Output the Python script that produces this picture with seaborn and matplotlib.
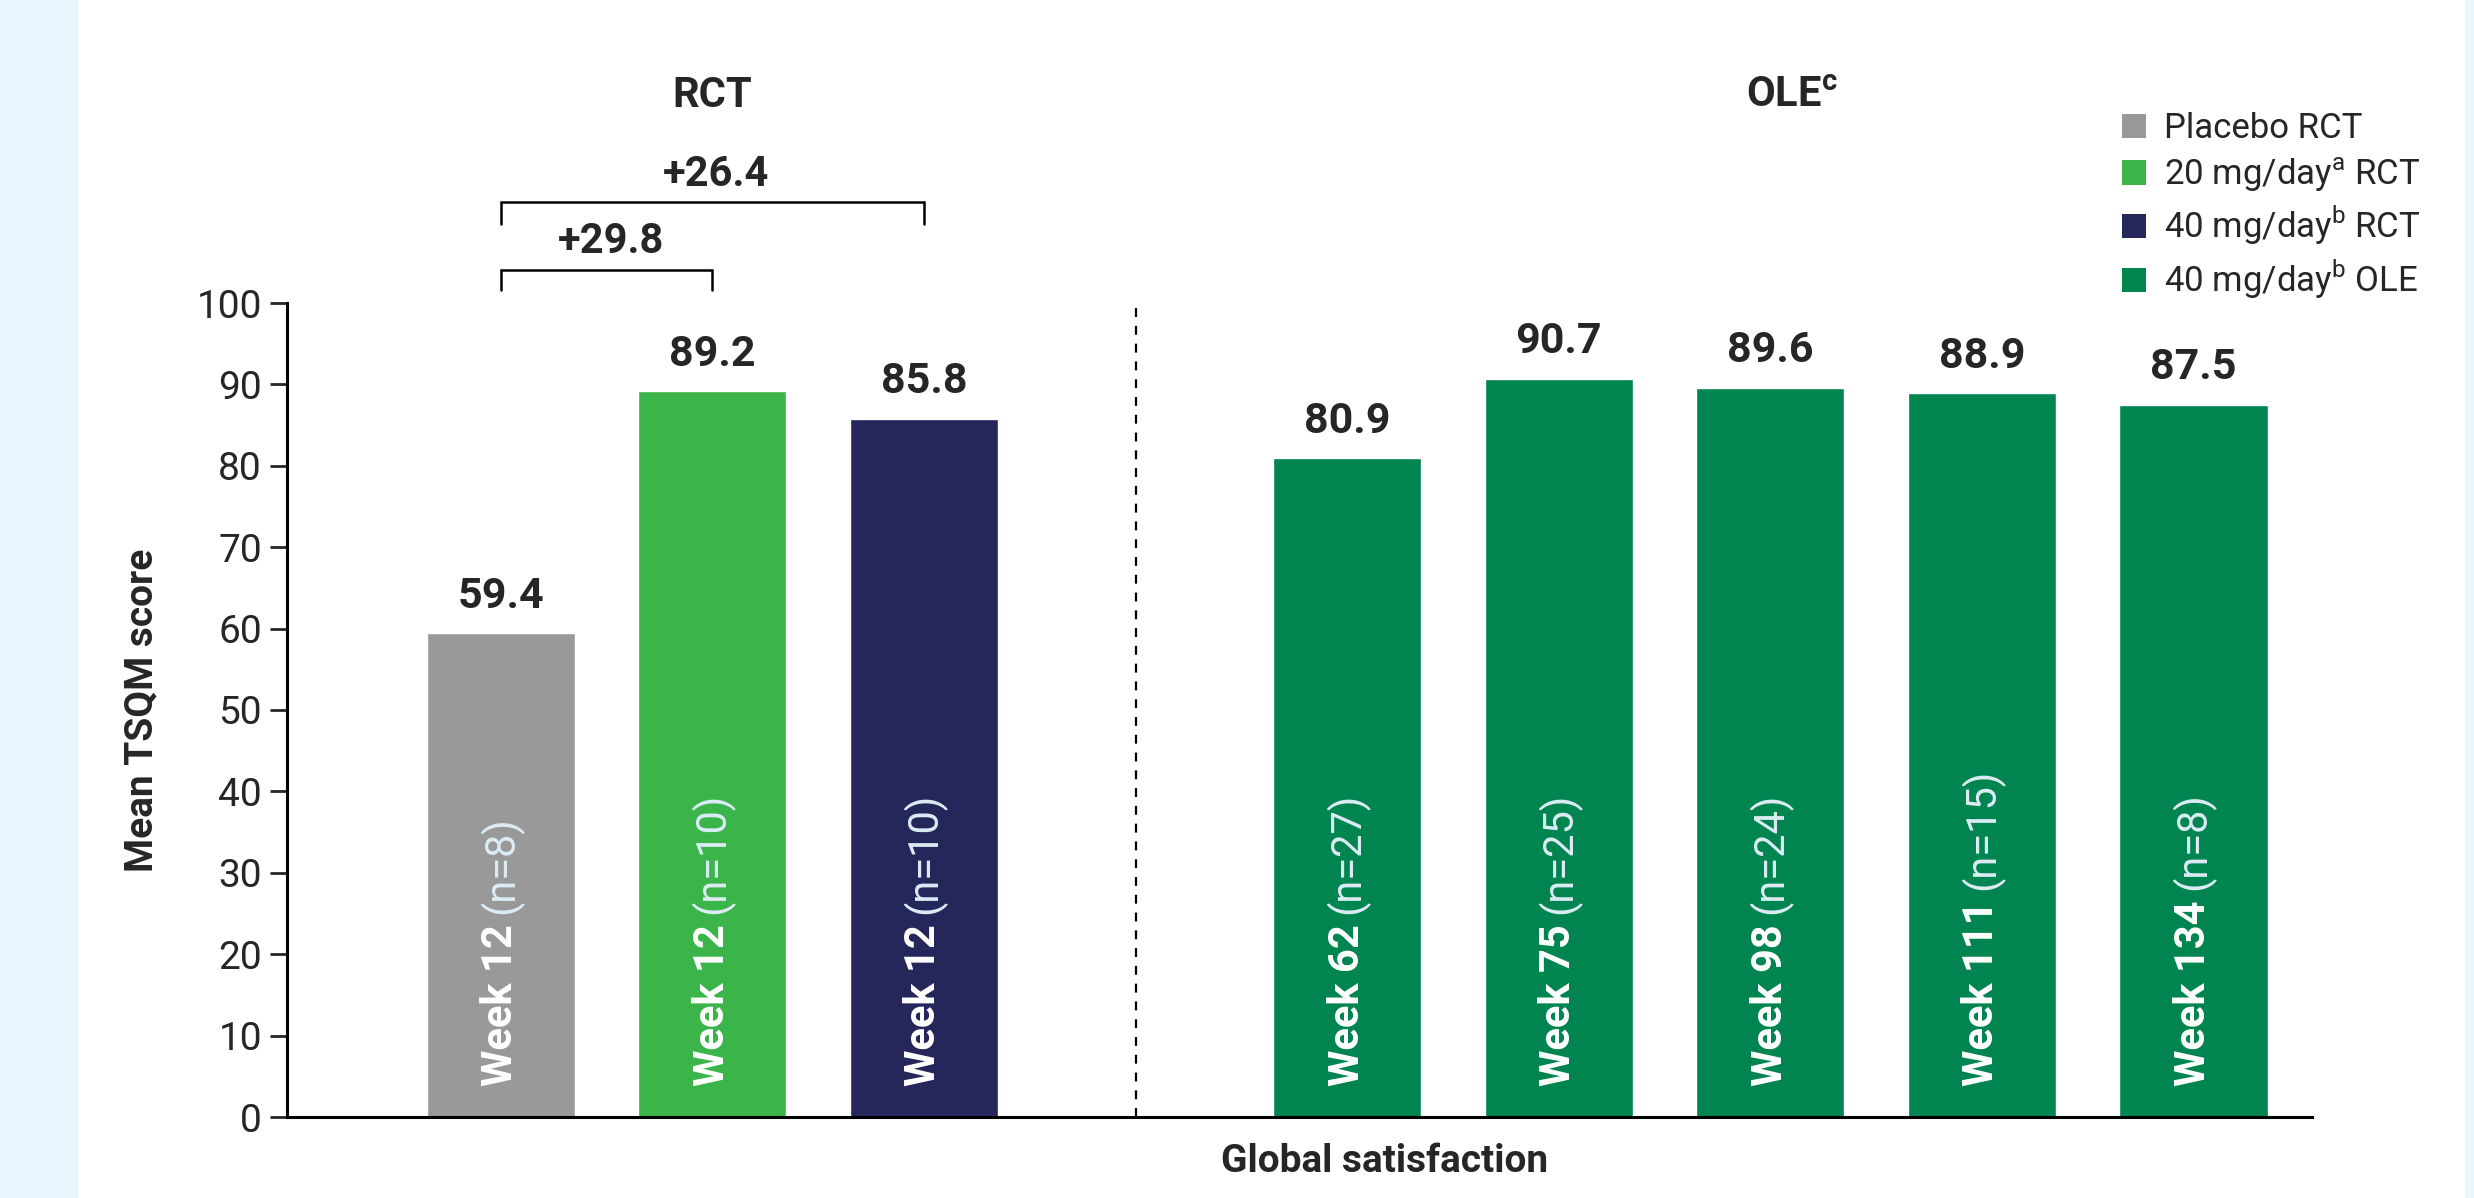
import matplotlib
matplotlib.use("Agg")
import matplotlib.pyplot as plt
from matplotlib.patches import Patch, Rectangle
import numpy as np
import pandas as pd
import seaborn as sns

# data
arms = ["Placebo RCT", "20 mg/day RCT", "40 mg/day RCT",
        "40 mg/day OLE", "40 mg/day OLE", "40 mg/day OLE", "40 mg/day OLE", "40 mg/day OLE"]
weeks = ["Week 12", "Week 12", "Week 12", "Week 62", "Week 75", "Week 98", "Week 111", "Week 134"]
n_values = [8, 10, 10, 27, 25, 24, 15, 8]
scores = [59.4, 89.2, 85.8, 80.9, 90.7, 89.6, 88.9, 87.5]
arm_names = ["Placebo RCT", "20 mg/day RCT", "40 mg/day RCT", "40 mg/day OLE"]
legend_labels = ["Placebo RCT", r"20 mg/day$^{\mathrm{a}}$ RCT",
                 r"40 mg/day$^{\mathrm{b}}$ RCT", r"40 mg/day$^{\mathrm{b}}$ OLE"]
arm_colors = ["#999999", "#3bb44a", "#25265a", "#008450"]
diff_labels = ["+29.8", "+26.4"]

ROBOTO = ["Roboto", "DejaVu Sans"]

sns.set_style("white")
plt.rcParams["font.family"] = ROBOTO
plt.rcParams["mathtext.fontset"] = "custom"
plt.rcParams["mathtext.rm"] = "Roboto"
plt.rcParams["mathtext.bf"] = "Roboto:bold"

df = pd.DataFrame({
    "bar": [f"{a}|{w}" for a, w in zip(arms, weeks)],
    "arm": arms,
    "score": scores,
})
ids = list(df["bar"])
order = ids[:3] + ["gap"] + ids[3:]

fig = plt.figure(figsize=(24.74, 11.98), dpi=100)
fig.patches.append(Rectangle((0, 0), 77 / 2474, 1, transform=fig.transFigure,
                             color="#eaf6fd", zorder=0))
fig.patches.append(Rectangle((2465 / 2474, 0), 1, 1, transform=fig.transFigure,
                             color="#eaf6fd", zorder=0))
ax = fig.add_axes([287 / 2474, 1 - 1117 / 1198, (2312 - 287) / 2474, (1117 - 303) / 1198])

sns.barplot(data=df, x="bar", y="score", hue="arm", order=order,
            hue_order=arm_names, palette=dict(zip(arm_names, arm_colors)),
            dodge=False, width=0.7, saturation=1, errorbar=None, legend=False, ax=ax)

ax.set_xlim(-1.01, 8.56)
ax.set_ylim(0, 100)
ax.set_yticks(np.arange(0, 101, 10))
ax.set_xticks([])
ax.tick_params(axis="y", direction="out", length=12, width=2, labelsize=28, pad=6, left=True)
for s in ["top", "right"]:
    ax.spines[s].set_visible(False)
for s in ["left", "bottom"]:
    ax.spines[s].set_linewidth(2.2)
    ax.spines[s].set_color("black")

ax.set_ylabel("Mean TSQM score", fontsize=28, fontweight="bold", labelpad=26)
ax.set_xlabel("Global satisfaction", fontsize=28, fontweight="bold", labelpad=16)
ax.xaxis.set_label_coords(0.542, -0.032)

# positions of the bars on the categorical axis
xpos = [order.index(b) for b in ids]

# value labels above bars
for x, v in zip(xpos, scores):
    ax.text(x, v + 2.0, f"{v:.1f}", ha="center", va="bottom",
            fontsize=31, fontweight="bold")

# in-bar labels: bold week + lighter n
fig.canvas.draw()
renderer = fig.canvas.get_renderer()
for x, w, n in zip(xpos, weeks, n_values):
    t = ax.text(x, 3.8, w, rotation=90, ha="center", va="bottom", color="white",
                fontsize=30, fontweight="bold")
    bb = t.get_window_extent(renderer=renderer)
    top = ax.transData.inverted().transform((0, bb.y1))[1]
    ax.text(x, top + 1.3, f"(n={n})", rotation=90, ha="center", va="bottom",
            color="#dcecf5", fontsize=30)

# dashed separator between RCT and OLE
ax.axvline(3.0, ymin=0, ymax=1, color="black", lw=1.6, ls=(0, (4, 4)))

# section headers
ax.text(1.0, 125.5, "RCT", ha="center", va="center", fontsize=30,
        fontweight="bold", clip_on=False)
ax.text(6.1, 125.5, r"OLE$^{\mathbf{c}}$", ha="center", va="center", fontsize=30,
        fontweight="bold", clip_on=False)

# comparison brackets
brackets = [(0, 1, 101.6, 104.1), (0, 2, 109.7, 112.4)]
for (x0, x1, yb, yt), lab in zip(brackets, diff_labels):
    ax.plot([x0, x0, x1, x1], [yb, yt, yt, yb], color="black", lw=1.8,
            clip_on=False, solid_joinstyle="miter")
    ax.text(x0 + (x1 - x0) / 2 + 0.02, yt + 0.9, lab, ha="center", va="bottom",
            fontsize=30, fontweight="bold", clip_on=False)

# legend
handles = [Patch(facecolor=c, edgecolor="none") for c in arm_colors]
fig.legend(handles, legend_labels, loc="upper left", bbox_to_anchor=(2108 / 2474, 1 - 98 / 1198),
           frameon=False, fontsize=25, handlelength=0.7, handleheight=0.7,
           handletextpad=0.5, labelspacing=0.3, borderaxespad=0)

fig.savefig("out.png", dpi=100)
